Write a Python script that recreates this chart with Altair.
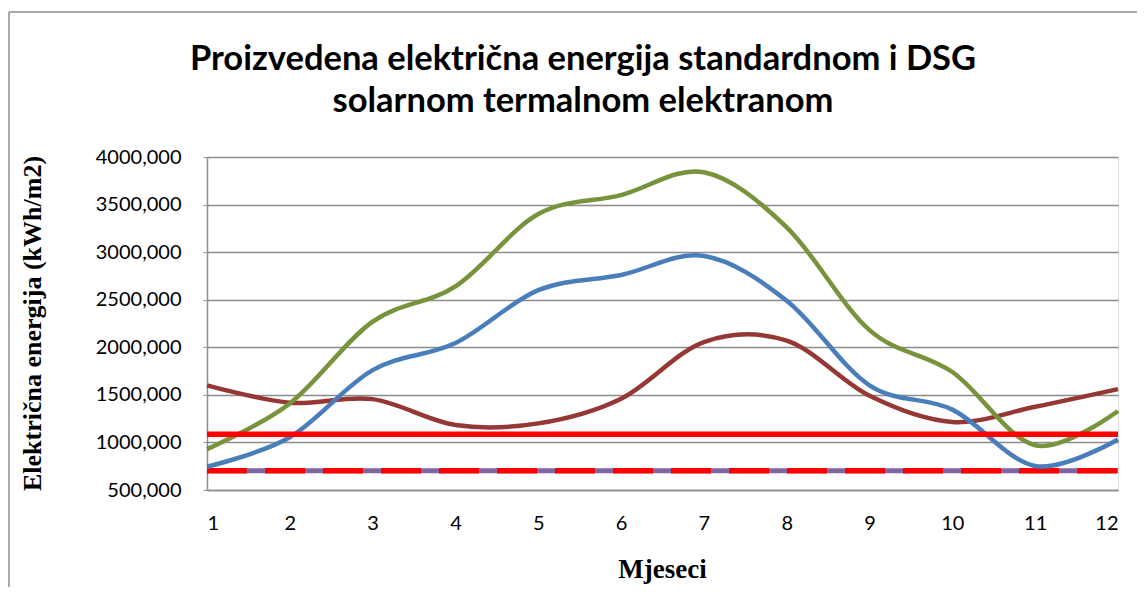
import altair as alt
import pandas as pd

months = list(range(1, 13))
green_vals = [930, 1410, 2270, 2640, 3400, 3600, 3840, 3260, 2180, 1740, 970, 1330]
blue_vals = [745, 1055, 1760, 2045, 2600, 2760, 2960, 2490, 1600, 1345, 752, 1030]
darkred_vals = [1600, 1418, 1455, 1183, 1200, 1460, 2055, 2070, 1490, 1215, 1375, 1560]
red_solid_vals = [1085] * 12
red_dash_vals = [703] * 12
purple_vals = [703] * 12

y_ticks = [500, 1000, 1500, 2000, 2500, 3000, 3500, 4000]
title_lines = ["Proizvedena električna energija standardnom i DSG",
               "solarnom termalnom elektranom"]

series = {
    "purple": purple_vals,
    "reddash": red_dash_vals,
    "darkred": darkred_vals,
    "blue": blue_vals,
    "green": green_vals,
    "redsolid": red_solid_vals,
}
rows = []
for name, vals in series.items():
    for m, v in zip(months, vals):
        rows.append({"month": m, "value": v, "series": name})
df = pd.DataFrame(rows)

x_enc = alt.X(
    "month:Q",
    scale=alt.Scale(domain=[1, 12], nice=False, zero=False),
    axis=alt.Axis(
        values=months, format="d", grid=False, ticks=False,
        labelFont="Lato", labelFontSize=20, labelColor="#000000",
        labelPadding=33, labelBaseline="middle",
        domainColor="#8c8c8c", domainWidth=1.5,
        title="Mjeseci", titleFont="Liberation Serif", titleFontSize=27,
        titleFontWeight="bold", titleColor="#000000",
        titleX=455, titleY=79, titleBaseline="middle", titleAlign="center",
    ),
)
y_enc = alt.Y(
    "value:Q",
    scale=alt.Scale(domain=[500, 4000], nice=False, zero=False),
    axis=alt.Axis(
        values=y_ticks,
        labelExpr="replace(format(datum.value, '.3f'), '.', ',')",
        labelFont="Lato", labelFontSize=20, labelColor="#000000",
        tickSize=4, tickColor="#8c8c8c", labelPadding=22,
        gridColor="#8c8c8c", gridWidth=1.3,
        domainColor="#8c8c8c", domainWidth=1.5,
        title="Električna  energija  (kWh/m2)", titleFont="Liberation Serif",
        titleFontSize=26, titleFontWeight="bold", titleColor="#000000",
        titleX=-175, titleY=166, titleAngle=-90, titleAlign="center",
        titleBaseline="middle",
    ),
)

base = alt.Chart(df).encode(x=x_enc, y=y_enc)

def line(name, color, width, dash=None):
    kw = dict(color=color, strokeWidth=width, interpolate="cardinal")
    if dash:
        kw["strokeDash"] = dash
    return base.transform_filter(alt.datum.series == name).mark_line(**kw)

layers = [
    line("purple", "#8064A2", 5),
    line("reddash", "#FF0000", 5.5, [40, 18]),
    line("darkred", "#953735", 4.5),
    line("blue", "#4A7EBB", 4.5),
    line("green", "#77933C", 4.5),
    line("redsolid", "#FF0000", 5.5),
]

one = alt.Data(values=[{"a": 1}])
border_v = alt.Chart(one).mark_rule(color="#8c8c8c", strokeWidth=1.5).encode(
    x=alt.value(-198), y=alt.value(-145), y2=alt.value(600)
)
border_h = alt.Chart(one).mark_rule(color="#8c8c8c", strokeWidth=1.5).encode(
    x=alt.value(-198), x2=alt.value(1100), y=alt.value(-145)
)

def title_text(txt, ypos):
    return alt.Chart(one).mark_text(
        font="Lato", fontSize=34.5, fontWeight="bold", color="#000000",
        align="center", baseline="middle",
    ).encode(x=alt.value(376), y=alt.value(ypos), text=alt.value(txt))

chart = alt.layer(
    border_v, border_h, *layers,
    title_text(title_lines[0], -97), title_text(title_lines[1], -55),
).properties(
    width=911,
    height=333,
    autosize=alt.AutoSizeParams(type="none"),
    padding={"left": 199, "top": 149, "right": 19, "bottom": 97},
).configure_view(stroke=None).configure(background="white")

chart.save("out.html", embed_options={"renderer": "svg", "actions": False})
